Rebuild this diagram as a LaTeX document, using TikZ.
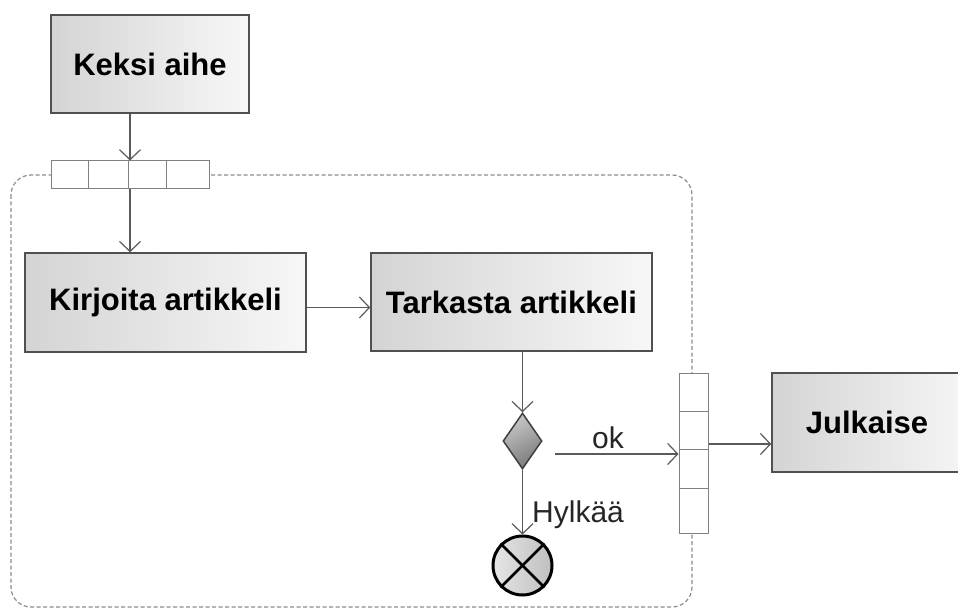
\documentclass[tikz,border=0pt]{standalone}
\usepackage{fontspec}
\setmainfont{Liberation Sans}
\usetikzlibrary{shapes.geometric,arrows.meta,calc}
\definecolor{edgegray}{HTML}{505050}
\definecolor{flowgray}{HTML}{5A5A5A}
\definecolor{pingray}{HTML}{808080}
\definecolor{regiongray}{HTML}{8C8C8C}
\definecolor{boxleft}{HTML}{D4D4D4}
\definecolor{boxright}{HTML}{F7F7F7}
\definecolor{decdark}{HTML}{7A7A7A}
\definecolor{declight}{HTML}{C8C8C8}
\begin{document}
\begin{tikzpicture}[x=1pt,y=-1pt,
  action/.style={draw=edgegray, line width=1.5pt, rectangle, inner sep=0pt,
    left color=boxleft, right color=boxright,
    font=\fontsize{31}{36}\selectfont\bfseries},
  pinbox/.style={draw=pingray, line width=1pt, fill=white, rectangle, inner sep=0pt},
  flow/.style={draw=flowgray, line width=1.2pt,
    -{Straight Barb[length=10pt,width=21pt,line width=1.2pt]}},
  guard/.style={font=\fontsize{30}{34}\selectfont, text=black!85, inner sep=0pt},
  region/.style={draw=regiongray, line width=1.2pt, dash pattern=on 4pt off 2.5pt,
    rounded corners=20pt}
]
\useasboundingbox (0,0) rectangle (958,609);
\clip (0,0) rectangle (958,609);
\fill[white] (0,0) rectangle (958,609);

% interruptible region
\draw[region] (11,175) rectangle (692,607);

% actions
\node[action, minimum width=198pt, minimum height=98pt] (keksi) at (150,64) {Keksi aihe};
\node[action, minimum width=281pt, minimum height=99pt] (kirjoita) at (165.5,302.5) {Kirjoita artikkeli};
\node[action, minimum width=281pt, minimum height=98pt] (tarkasta) at (511.5,302) {Tarkasta artikkeli};
\node[action, minimum width=204pt, minimum height=99pt, text width=190pt, align=center,
  inner xsep=0pt] (julkaise) at (874,422.5) {\hspace*{-14pt}Julkaise};

% input pin on the region border
\node[pinbox, minimum width=158pt, minimum height=28pt] (toppin) at (130,175) {};
\foreach \f in {0.24,0.49,0.73}
  \draw[pingray, line width=1pt] ($(toppin.north west)!\f!(toppin.north east)$) -- ($(toppin.south west)!\f!(toppin.south east)$);

% output pin on the region border
\node[pinbox, minimum width=29pt, minimum height=160pt] (rpin) at (693.5,453) {};
\foreach \f in {0.245,0.48,0.72}
  \draw[pingray, line width=1pt] ($(rpin.north west)!\f!(rpin.south west)$) -- ($(rpin.north east)!\f!(rpin.south east)$);

% decision
\node[diamond, draw=black!75, line width=1.5pt, inner sep=0pt,
  minimum width=39pt, minimum height=56pt,
  top color=declight, bottom color=decdark, shading angle=30] (dec) at (522.5,441) {};

% flow final
\node[circle, draw=black, line width=3pt, inner sep=0pt, minimum size=59pt,
  left color=black!10, right color=black!25] (final) at (522.5,565.5) {};
\draw[black, line width=2.5pt] (final.45) -- (final.225);
\draw[black, line width=2.5pt] (final.135) -- (final.315);

% connectors
\draw[flow] (toppin.north |- keksi.south) -- (toppin.north);
\draw[flow] (toppin.south) -- (toppin.south |- kirjoita.north);
\draw[flow] ([yshift=-5pt]kirjoita.east) -- ([yshift=-5pt]kirjoita.east -| tarkasta.west);
\draw[flow] (dec.north |- tarkasta.south) -- (dec.north);
\draw[flow] (dec.south) -- (final.north);
\coordinate (okstart) at (555,454);
\draw[flow] (okstart) -- (okstart -| rpin.west);
\draw[flow] ([yshift=9pt]rpin.east) -- ([yshift=9pt]rpin.east -| julkaise.west);

% guards
\node[guard, anchor=base] (oklbl) at (608,448) {ok};
\node[guard, anchor=base west] (hylkaa) at (532,522) {Hylkää};
\end{tikzpicture}
\end{document}
